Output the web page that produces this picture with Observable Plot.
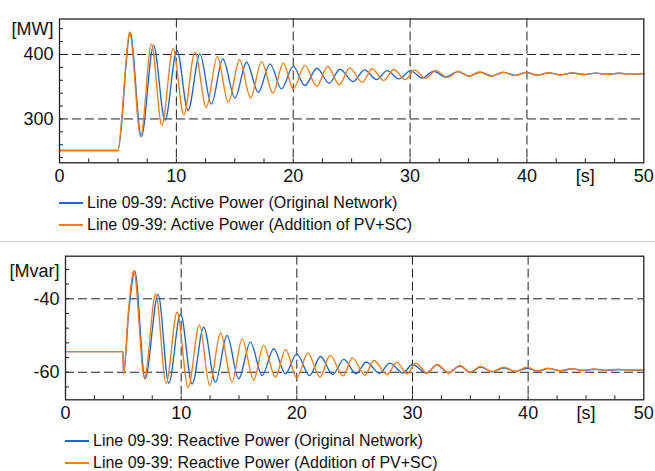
<!DOCTYPE html>
<html><head><meta charset="utf-8">
<script src="https://cdn.jsdelivr.net/npm/d3@7"></script>
<script src="https://cdn.jsdelivr.net/npm/@observablehq/plot@0.6"></script>
<style>
body{margin:0;background:#fff;font-family:"Liberation Sans",Arial,sans-serif;}
#wrap{position:relative;width:655px;height:471px;overflow:hidden;background:#fff;}
.panel{position:absolute;left:0;}
.legend{position:absolute;font-size:16px;color:#111;}
.legend div{display:flex;align-items:center;white-space:nowrap;height:22px;}
.sw{display:inline-block;width:24px;height:1.4px;margin-right:4px;}
#sep{position:absolute;left:0;top:241px;width:655px;height:1px;background:#cfcfcf;}
</style></head><body>
<div id="wrap">
  <div id="p1" class="panel" style="top:0"></div>
  <div id="l1" class="legend" style="left:59px;top:192px"></div>
  <div id="sep"></div>
  <div id="p2" class="panel" style="top:243px"></div>
  <div id="l2" class="legend" style="left:65px;top:430px"></div>
</div>
<script>
// ---- data (time [s], value) ----
const activeOriginal = [
  [0,251],[5.0,251],[5.36,302],[5.65,375],[6.04,434],[7.0,272.5],[8.05,414],[9.03,298],
  [10.05,406.5],[11.0,313],[12.01,401],[12.99,323],[13.98,393],[15.01,332.6],[16.01,388],
  [17.01,341.4],[18.01,385.5],[19.0,346.7],[20.0,381.5],[21.0,351.8],[22.03,378.7],[23.08,355.4],
  [24.0,377],[25.13,358],[26.1,376.2],[27.13,361],[28.04,375],[29.04,362.2],[30.05,375],
  [31.03,363.5],[32.03,374],[33.03,365],[34.1,373.5],[35.03,366.3],[36.03,372.5],[37.03,366.8],
  [38.02,372.2],[39.02,367.5],[39.96,372],[40.95,368],[41.9,371.5],[42.9,368.5],[43.9,371.2],
  [44.9,369],[45.9,371],[46.9,369.3],[47.9,370.8],[48.9,369.6],[50,370.3]
];
const activePV = [
  [0,251],[5.0,251],[5.33,302],[5.63,375],[5.99,435],[6.95,273],[7.87,416],[8.76,290],
  [9.72,408.8],[10.64,306],[11.59,403.6],[12.56,318],[13.5,397],[14.44,325.8],[15.41,391.8],
  [16.35,332.6],[17.29,389],[18.26,340.4],[19.15,386.5],[20.0,346.7],[21.0,383],[22.0,350.7],
  [22.96,381.3],[23.95,353],[24.84,379.3],[25.9,356.9],[26.76,377.8],[27.75,359.6],[28.6,376.7],
  [29.6,361],[30.4,376.2],[31.3,363],[32.2,375],[33.2,364.7],[34.15,374],[35.0,366],
  [35.95,372.8],[36.95,366.3],[37.95,372.6],[38.95,367.2],[39.9,372.3],[40.9,367.6],[41.85,371.8],
  [42.85,368.2],[43.85,371.4],[44.85,368.7],[45.85,371],[46.85,369.1],[47.85,370.8],[48.85,369.5],[50,370.4]
];
const reactiveOriginal = [
  [0,-54.4],[4.97,-54.4],[5.02,-60.4],[5.47,-43.5],[5.99,-32.5],[6.88,-61.8],[8.01,-38.8],
  [8.93,-63],[9.95,-44.1],[10.95,-63.2],[11.95,-47.7],[12.96,-62.7],[13.97,-50],[14.97,-61.8],
  [15.99,-51.8],[17.0,-60.9],[18.0,-53.6],[19.01,-60.4],[20.0,-55],[21.1,-60.9],[22.05,-55.7],
  [23.1,-60.6],[24.06,-56.5],[25.13,-60.4],[26.0,-57.2],[27.15,-60.3],[28.04,-57.5],[29.17,-60.2],
  [30.0,-57.9],[31.2,-60.2],[32.1,-58],[33.1,-60.1],[34.1,-58.3],[35.0,-60],[35.9,-58.6],
  [36.9,-59.9],[37.9,-58.8],[38.9,-59.8],[39.9,-58.9],[40.85,-59.7],[41.8,-59],[42.8,-59.6],
  [43.8,-59.1],[44.8,-59.5],[45.8,-59.2],[46.8,-59.5],[47.8,-59.25],[48.8,-59.45],[50,-59.35]
];
const reactivePV = [
  [0,-54.4],[4.97,-54.4],[5.02,-60.4],[5.45,-43],[5.9,-32.3],[6.83,-61.6],[7.8,-38.6],
  [8.7,-63],[9.65,-43.6],[10.6,-64.1],[11.58,-47.1],[12.47,-63.6],[13.4,-49.3],[14.4,-62.7],
  [15.27,-50.9],[16.27,-62.1],[17.13,-52.7],[18.15,-61.3],[19.03,-53.8],[20.0,-61.6],[20.95,-54.8],
  [22.0,-61.3],[22.88,-55.4],[24.0,-61],[24.8,-56.1],[25.9,-60.8],[26.66,-56.8],[27.8,-60.6],
  [28.65,-57.3],[29.55,-60.4],[30.26,-57.5],[31.27,-60.2],[32.14,-57.9],[33.14,-60.2],[34.1,-58.2],
  [35.0,-60],[35.88,-58.4],[36.9,-59.8],[37.9,-58.6],[38.9,-59.8],[39.9,-58.6],[40.8,-59.7],
  [41.7,-58.9],[42.75,-59.6],[43.7,-59],[44.7,-59.5],[45.7,-59.1],[46.7,-59.45],[47.7,-59.2],
  [48.7,-59.4],[50,-59.3]
];
// ---- ticks and labels ----
const xTickValues = [0, 10, 20, 30, 40, 45, 50];
const xUnitTick = 45;
const xUnitLabel = "[s]";
const xGrid = [10, 20, 30, 40];
const xMinor = d3.range(2.5, 50, 2.5);
const activeTicks = [300, 400];
const activeMinor = d3.range(240, 441, 20);
const reactiveTicks = [-60, -40];
const reactiveMinor = d3.range(-64, -31, 4);
const activeUnit = "[MW]";
const reactiveUnit = "[Mvar]";
const activeLegend = ["Line 09-39: Active Power (Original Network)", "Line 09-39: Active Power (Addition of PV+SC)"];
const reactiveLegend = ["Line 09-39: Reactive Power (Original Network)", "Line 09-39: Reactive Power (Addition of PV+SC)"];
const colors = ["#1f66d1", "#ff7b0f"];

const FONT = "'Liberation Sans', Arial, sans-serif";
const ink = "#222";

function panel({series, yDomain, yTicks, yMinor, unit, unitDy, marginLeft, marginTop, marginBottom, height}) {
  return Plot.plot({
    width: 655, height, marginLeft, marginRight: 11.7, marginTop, marginBottom,
    x: {domain: [0, 50]},
    y: {domain: yDomain},
    style: {fontFamily: FONT, fontSize: "18px", color: "#111", background: "transparent", overflow: "visible"},
    marks: [
      Plot.ruleX(xGrid, {stroke: ink, strokeWidth: 1, strokeDasharray: "9,4"}),
      Plot.ruleY(yTicks, {stroke: ink, strokeWidth: 1, strokeDasharray: "9,4"}),
      ...series.map((s, i) => Plot.line(s, {x: d => d[0], y: d => d[1], stroke: colors[i], strokeWidth: 1.35, curve: "monotone-x"})),
      Plot.axisX(xMinor, {tickSize: 4, dy: -4, fill: "none", stroke: ink, label: null}),
      Plot.axisY(yMinor, {tickSize: 4, dx: 4, fill: "none", stroke: ink, label: null}),
      Plot.axisX(xTickValues, {tickSize: 0, tickPadding: 6, label: null, tickFormat: d => d === xUnitTick ? xUnitLabel : String(d)}),
      Plot.axisY(yTicks, {tickSize: 0, tickPadding: 6, label: null, tickFormat: d => String(d)}),
      Plot.text([unit], {frameAnchor: "top-left", textAnchor: "end", dx: -6, dy: unitDy, fontSize: 18, fill: "#111"}),
      Plot.frame({stroke: ink, strokeWidth: 1.3})
    ]
  });
}

document.getElementById("p1").append(panel({
  series: [activeOriginal, activePV], yDomain: [232, 455], yTicks: activeTicks, yMinor: activeMinor,
  unit: activeUnit, unitDy: 3, marginLeft: 59, marginTop: 18.5, marginBottom: 27.7, height: 190
}));
document.getElementById("p2").append(panel({
  series: [reactiveOriginal, reactivePV], yDomain: [-67.5, -28.4], yTicks: reactiveTicks, yMinor: reactiveMinor,
  unit: reactiveUnit, unitDy: 7.6, marginLeft: 65, marginTop: 12.7, marginBottom: 33.7, height: 190
}));

function legend(id, labels) {
  const el = document.getElementById(id);
  labels.forEach((t, i) => {
    const row = document.createElement("div");
    const sw = document.createElement("span");
    sw.className = "sw"; sw.style.background = colors[i];
    const tx = document.createElement("span"); tx.textContent = t;
    row.append(sw, tx); el.append(row);
  });
}
legend("l1", activeLegend);
legend("l2", reactiveLegend);
</script>
</body></html>
